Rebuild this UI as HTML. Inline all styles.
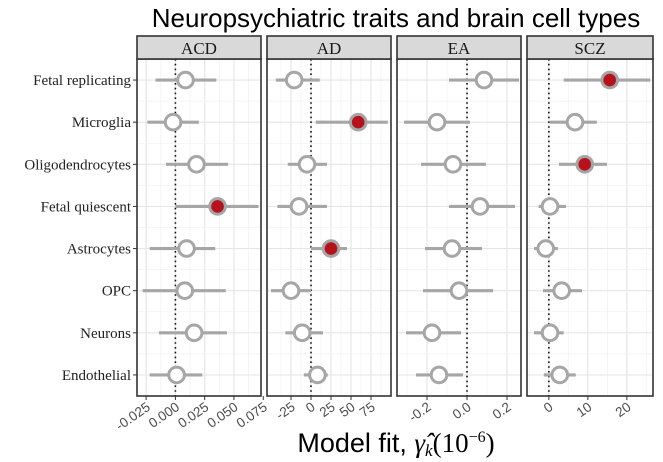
<!DOCTYPE html>
<html><head><meta charset="utf-8"><style>
body{margin:0;background:#fff;width:663px;height:462px;overflow:hidden}
svg{display:block}
</style></head><body>
<svg id="c" width="663" height="462" xmlns="http://www.w3.org/2000/svg">
<text x="396" y="27" text-anchor="middle" font-family="Liberation Sans, sans-serif" font-size="26" fill="#000">Neuropsychiatric traits and brain cell types</text>
<text x="396" y="452" text-anchor="middle" font-family="Liberation Sans, sans-serif" font-size="27" fill="#000">Model fit, <tspan font-family="Liberation Serif, serif" font-style="italic">γ̂</tspan><tspan font-family="Liberation Serif, serif" font-style="italic" font-size="17" dy="4">k</tspan><tspan font-family="Liberation Serif, serif" dy="-4">(10</tspan><tspan font-family="Liberation Serif, serif" font-size="16" dy="-10">−6</tspan><tspan font-family="Liberation Serif, serif" dy="10">)</tspan></text>
</svg>
<script>
const categories=["Fetal replicating","Microglia","Oligodendrocytes","Fetal quiescent","Astrocytes","OPC","Neurons","Endothelial"];
const traits=["ACD","AD","EA","SCZ"];
const acdEst=[0.0086,-0.002,0.018,0.036,0.0095,0.008,0.016,0.001];
const acdLo=[-0.017,-0.024,-0.008,0,-0.022,-0.028,-0.014,-0.022];
const acdHi=[0.035,0.020,0.045,0.071,0.034,0.043,0.044,0.023];
const adEst=[-21,59,-5,-15,25,-25,-11,8];
const adLo=[-44,6,-29,-42,0,-50,-32,-9];
const adHi=[11,96,20,20,45,0,15,21];
const eaEst=[0.085,-0.15,-0.07,0.065,-0.075,-0.04,-0.175,-0.14];
const eaLo=[-0.09,-0.315,-0.23,-0.09,-0.21,-0.22,-0.305,-0.255];
const eaHi=[0.26,0.015,0.095,0.24,0.075,0.13,-0.03,-0.02];
const sczEst=[15.6,6.7,9.2,0.3,-0.8,3.3,0.3,2.8];
const sczLo=[3.8,0.3,2.6,-2.6,-3.8,-1.5,-3.8,-1.3];
const sczHi=[26,12.3,14.9,4.4,2.3,8.5,3.8,6.9];
const significant=[[3],[1,4],[],[0,2]];
const acdTicks=[-0.025,0,0.025,0.05,0.075];
const acdTickLabels=["-0.025","0.000","0.025","0.050","0.075"];
const adTicks=[-25,0,25,50,75];
const adTickLabels=["-25","0","25","50","75"];
const eaTicks=[-0.2,0,0.2];
const eaTickLabels=["-0.2","0.0","0.2"];
const sczTicks=[0,10,20];
const sczTickLabels=["0","10","20"];

const svg=document.getElementById('c');
const NS="http://www.w3.org/2000/svg";
function mk(t,a,p){const e=document.createElementNS(NS,t);for(const k in a)e.setAttribute(k,a[k]);(p||svg).appendChild(e);return e;}
const panels=[
 {x0:137,x1:261,d0:-0.0328,d1:0.0731,est:acdEst,lo:acdLo,hi:acdHi,ticks:acdTicks,lab:acdTickLabels},
 {x0:267,x1:391,d0:-55,d1:100,est:adEst,lo:adLo,hi:adHi,ticks:adTicks,lab:adTickLabels},
 {x0:397,x1:521,d0:-0.35,d1:0.27,est:eaEst,lo:eaLo,hi:eaHi,ticks:eaTicks,lab:eaTickLabels},
 {x0:527,x1:653,d0:-5.6,d1:26.7,est:sczEst,lo:sczLo,hi:sczHi,ticks:sczTicks,lab:sczTickLabels}];
const yTop=59,yBot=396;
const step=(yBot-yTop)/categories.length;
function yPos(i){return yTop+step*(i+0.5);}
categories.forEach((c,i)=>{
 const t=mk('text',{x:131,y:yPos(i)+5,'text-anchor':'end','font-family':'Liberation Serif, serif','font-size':'15',fill:'#222'});
 t.textContent=c;
 
 
 const tk=mk('line',{x1:133,x2:137,y1:yPos(i),y2:yPos(i),stroke:'#333','stroke-width':1});
 
 
});
panels.forEach((p,pi)=>{
 const sx=v=>p.x0+(v-p.d0)/(p.d1-p.d0)*(p.x1-p.x0);
 const g=mk('g',{});
 
 
 mk('rect',{x:p.x0,y:yTop,width:p.x1-p.x0,height:yBot-yTop,fill:'#fff'},g);
 const tstep=p.ticks[1]-p.ticks[0];
 for(let k=-2;k<p.ticks.length+2;k++){
  const v=p.ticks[0]+tstep*(k+0.5);const x=sx(v);
  if(x>p.x0&&x<p.x1)mk('line',{x1:x,x2:x,y1:yTop,y2:yBot,stroke:'#f2f2f2','stroke-width':0.8},g);
 }
 p.ticks.forEach(v=>{const x=sx(v);if(x>p.x0&&x<p.x1)mk('line',{x1:x,x2:x,y1:yTop,y2:yBot,stroke:'#e6e6e6','stroke-width':1.2},g);});
 categories.forEach((c,i)=>{
  mk('line',{x1:p.x0,x2:p.x1,y1:yPos(i),y2:yPos(i),stroke:'#e6e6e6','stroke-width':1.2},g);
  mk('line',{x1:p.x0,x2:p.x1,y1:yPos(i)+step/2,y2:yPos(i)+step/2,stroke:'#f2f2f2','stroke-width':0.8},g);
 });
 mk('line',{x1:sx(0),x2:sx(0),y1:yTop,y2:yBot,stroke:'#111','stroke-width':1.6,'stroke-dasharray':'1.6 3.2'},g);
 categories.forEach((c,i)=>{
  const y=yPos(i);
  const l=mk('line',{x1:sx(p.lo[i]),x2:sx(p.hi[i]),y1:y,y2:y,stroke:'#a6a6a6','stroke-width':3.2},g);
  
  
  const sig=significant[pi].includes(i);
  const pt=mk('circle',{cx:sx(p.est[i]),cy:y,r:7.8,fill:sig?'#b5121b':'#fff',stroke:'#a6a6a6','stroke-width':3},g);
  
  
 });
 mk('rect',{x:p.x0,y:yTop,width:p.x1-p.x0,height:yBot-yTop,fill:'none',stroke:'#333','stroke-width':1.6},g);
 const s=mk('rect',{x:p.x0,y:36,width:p.x1-p.x0,height:yTop-36,fill:'#d9d9d9',stroke:'#333','stroke-width':1.6},g);
 
 
 const st=mk('text',{x:(p.x0+p.x1)/2,y:54,'text-anchor':'middle','font-family':'Liberation Serif, serif','font-size':'17',fill:'#1a1a1a'},g);
 st.textContent=traits[pi];
 
 
 p.ticks.forEach((v,k)=>{
  const x=sx(v);
  mk('line',{x1:x,x2:x,y1:yBot,y2:yBot+4,stroke:'#333','stroke-width':1},g);
  const t=mk('text',{x:x+5,y:yBot+13,'text-anchor':'end','font-family':'Liberation Sans, sans-serif','font-size':'13.5',fill:'#4d4d4d',transform:`rotate(-35 ${x+5} ${yBot+13})`},g);
  t.textContent=p.lab[k];
  
  
 });
});
</script>
</body></html>
